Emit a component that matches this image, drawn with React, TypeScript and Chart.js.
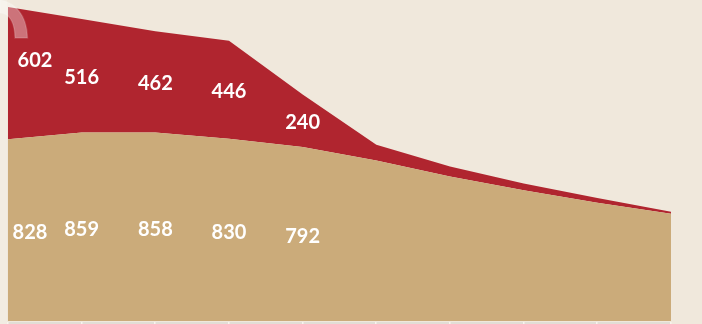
import React, { useEffect, useRef } from "react";
import { Chart, registerables } from "chart.js";

Chart.register(...registerables);

const categories = ["1", "2", "3", "4", "5", "6", "7", "8", "9", "10"];
const baseSeries = [828, 859, 858, 830, 792, 731, 658, 596, 539, 489];
const topSeries = [602, 516, 462, 446, 240, 72, 46, 30, 21, 9];
const labelledPoints = 5;

const BG = "#f0e8dc";
const RED = "#b0252f";
const TAN = "#cbab7a";

const decorPlugin = {
  id: "decor",
  beforeDraw(chart: any) {
    const { ctx, width, height } = chart;
    ctx.save();
    ctx.fillStyle = BG;
    ctx.fillRect(0, 0, width, height);
    ctx.restore();
  },
  afterDatasetsDraw(chart: any) {
    const { ctx, chartArea } = chart;
    const xs = chart.scales.x;
    ctx.save();
    // bottom band
    ctx.fillStyle = "#e2ded6";
    ctx.fillRect(chartArea.left, chartArea.bottom + 1, chartArea.right - chartArea.left, 3);
    ctx.fillStyle = "#f7f4ee";
    for (let i = 0; i < categories.length; i++) {
      const x = xs.getPixelForValue(i);
      ctx.fillRect(Math.round(x) - 1, chartArea.bottom + 1, 1.5, 3);
    }
    // left light strip
    ctx.fillStyle = "rgba(255,255,255,0.18)";
    ctx.fillRect(0, 0, chartArea.left - 1, chart.height);

    // labels
    const m0 = chart.getDatasetMeta(0);
    const m1 = chart.getDatasetMeta(1);
    ctx.fillStyle = "#ffffff";
    ctx.font = "bold 20px Lato, 'Open Sans', sans-serif";
    ctx.textAlign = "center";
    ctx.textBaseline = "middle";
    for (let i = 0; i < labelledPoints; i++) {
      const p0 = m0.data[i];
      const p1 = m1.data[i];
      const bottom = chartArea.bottom;
      const x = p0.x;
      const yTan = (p0.y + bottom) / 2 + 2.5;
      let yRed = (p1.y + p0.y) / 2 + 1.5;
      let xTan = x;
      let xRed = x;
      if (i === 0) {
        xTan = x + 22;
        xRed = x + 27;
        yRed = yRed - 14;
      }
      ctx.fillText(String(topSeries[i]), xRed, yRed);
      ctx.fillText(String(baseSeries[i]), xTan, yTan);
    }

    // translucent swoosh decoration
    ctx.beginPath();
    ctx.moveTo(0, 0);
    ctx.bezierCurveTo(14, 2, 27, 14, 27.5, 38);
    ctx.lineTo(15, 38);
    ctx.bezierCurveTo(15, 26, 11, 13, 0, 13);
    ctx.closePath();
    ctx.fillStyle = "rgba(255,255,255,0.36)";
    ctx.fill();
    ctx.strokeStyle = "rgba(255,255,255,0.15)";
    ctx.lineWidth = 1.5;
    ctx.stroke();
    ctx.restore();
  },
};

export default function App() {
  const ref = useRef<HTMLCanvasElement>(null);
  useEffect(() => {
    const chart = new Chart(ref.current!, {
      type: "line",
      data: {
        labels: categories,
        datasets: [
          {
            data: baseSeries,
            backgroundColor: TAN,
            borderColor: TAN,
            borderWidth: 0,
            fill: "origin",
            pointRadius: 0,
            tension: 0,
          },
          {
            data: topSeries,
            backgroundColor: RED,
            borderColor: RED,
            borderWidth: 0,
            fill: "-1",
            pointRadius: 0,
            tension: 0,
          },
        ],
      },
      options: {
        animation: false,
        responsive: false,
        layout: { padding: { left: 8, right: 31, top: 0, bottom: 3 } },
        plugins: { legend: { display: false }, tooltip: { enabled: false } },
        scales: {
          x: { display: false, offset: false },
          y: { display: false, stacked: true, min: 0, max: 1462 },
        },
      },
      plugins: [decorPlugin],
    });
    return () => chart.destroy();
  }, []);
  return (
    <div style={{ position: "absolute", left: 0, top: 0, width: 702, height: 324 }}>
      <canvas ref={ref} width={702} height={324} style={{ display: "block" }} />
    </div>
  );
}
